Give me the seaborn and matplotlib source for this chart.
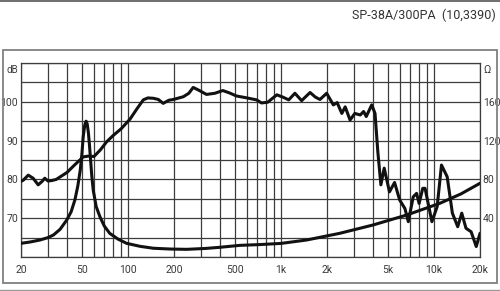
import matplotlib
matplotlib.use("Agg")
import matplotlib.pyplot as plt
import matplotlib.ticker as mticker
from matplotlib.lines import Line2D
from matplotlib.patches import Rectangle
import seaborn as sns
import pandas as pd

# ---- data ----
spl_freq = [20, 20.7, 22.3, 24, 25.9, 27.5, 28.6, 30, 31.8, 34, 40, 45, 51, 55, 60, 66, 72.6, 80, 90,
            103, 115, 126, 135, 147, 158, 170, 185, 198, 230, 250, 267, 290, 326, 370, 417, 460,
            512, 600, 692, 747, 820, 940, 1030, 1124, 1234, 1365, 1550, 1680, 1800, 1990, 2200,
            2330, 2500, 2630, 2830, 3040, 3300, 3470, 3610, 3920, 4120, 4300, 4500, 4730, 5120,
            5530, 5970, 6460, 6800, 7320, 7700, 8000, 8450, 8750, 9700, 10500, 11200, 12200,
            13200, 14300, 15200, 16200, 17500, 18900, 20000]
spl_db = [79.5, 79.8, 81.1, 80.3, 78.6, 79.5, 80.3, 79.6, 79.7, 80.0, 81.8, 83.8, 85.8, 86.0, 85.9, 87.6, 89.7, 91.3, 93.0,
          95.5, 98.3, 100.5, 101.0, 100.9, 100.6, 99.6, 100.4, 100.6, 101.3, 102.2, 103.7, 103.0, 101.9, 102.2, 102.9, 102.3,
          101.5, 101.0, 100.5, 99.7, 99.9, 101.8, 101.2, 100.5, 102.2, 100.3, 102.4, 101.2, 100.6, 102.2, 99.2,
          99.8, 97.0, 98.7, 95.3, 97.0, 96.6, 97.5, 96.2, 99.2, 97.0, 87.0, 78.6, 82.9, 76.8,
          79.2, 74.7, 72.5, 69.1, 75.5, 76.4, 73.8, 77.7, 77.7, 69.1, 73.0, 83.7, 80.7,
          71.3, 67.8, 71.3, 67.4, 66.5, 62.7, 66.1]

imp_freq = [20, 23, 26.6, 30, 32.6, 36, 39.8, 42.5, 45, 47, 48.8, 50, 51, 52.2, 53.3, 54.2, 55.2, 56,
            57, 58, 59.3, 62, 65.6, 70, 76, 86, 98, 120, 147, 190, 242, 320, 399, 538, 725,
            1000, 1470, 2420, 4000, 6640, 10950, 15000, 20000]
imp_ohm = [14.1, 15.5, 17.5, 20.0, 22.7, 28.5, 38.1, 46.5, 58.8, 73, 89.7, 106, 124, 136, 140, 137, 127.5, 116,
           100, 84, 69, 52, 41.5, 32, 24.4, 18.5, 14.1, 11, 9.0, 8.2, 7.9, 8.8, 10.0, 12.0, 12.8,
           14.0, 17.5, 24.4, 33.0, 43.3, 55.4, 65.0, 76.0]

x_major = [20, 50, 100, 200, 500, 1000, 2000, 5000, 10000, 20000]
x_major_labels = ["20", "50", "100", "200", "500", "1k", "2k", "5k", "10k", "20k"]
db_ticks = [60, 65, 70, 75, 80, 85, 90, 95, 100, 105, 110]
db_labels = ["", "", "70", "", "80", "", "90", "", "100", "", ""]
ohm_ticks = [40, 80, 120, 160]
title_text = "SP-38A/300PA  (10,3390)"

# ---- style ----
sns.set_theme(style="white")
plt.rcParams['font.family'] = ['Roboto', 'DejaVu Sans']
txt_col = "#3a3a3a"
grid_col = "#3c3c3c"
lab_fs = 7.5

fig = plt.figure(figsize=(5.0, 2.91), dpi=100)
ax = fig.add_axes([21/500, 1-257/291, (480-21)/500, (257-63)/291])

spl_df = pd.DataFrame({"f": spl_freq, "db": spl_db})
imp_df = pd.DataFrame({"f": imp_freq, "ohm": imp_ohm})

sns.lineplot(data=spl_df, x="f", y="db", ax=ax, color="#111111", lw=2.2, sort=False, zorder=5)
ax.set_xscale("log")
ax.set_xlim(20, 20000)
ax.set_ylim(60, 110)

minor = []
for dec in [10, 100, 1000, 10000]:
    for m in range(1, 10):
        v = dec * m
        if 20 <= v <= 20000 and v not in x_major:
            minor.append(v)
ax.xaxis.set_major_locator(mticker.FixedLocator(x_major))
ax.xaxis.set_major_formatter(mticker.FixedFormatter(x_major_labels))
ax.xaxis.set_minor_locator(mticker.FixedLocator(minor))
ax.xaxis.set_minor_formatter(mticker.NullFormatter())
ax.set_yticks(db_ticks)
ax.set_yticklabels(db_labels)
ax.grid(True, which="both", axis="x", color=grid_col, lw=0.9)
ax.grid(True, which="major", axis="y", color=grid_col, lw=0.9)
ax.tick_params(axis="both", which="both", length=0, labelsize=lab_fs, colors=txt_col)
ax.tick_params(axis="x", pad=6)
ax.tick_params(axis="y", pad=2)
ax.set_xlabel("")
ax.set_ylabel("")
for s in ax.spines.values():
    s.set_color(grid_col)
    s.set_linewidth(0.9)

ax2 = ax.twinx()
sns.lineplot(data=imp_df, x="f", y="ohm", ax=ax2, color="#111111", lw=2.2, sort=False, zorder=5)
ax2.set_ylim(0, 200)
ax2.set_xlim(20, 20000)
ax2.set_yticks(ohm_ticks)
ax2.set_yticklabels([str(t) for t in ohm_ticks])
ax2.tick_params(axis="y", length=0, labelsize=lab_fs, colors=txt_col, pad=2)
ax2.set_ylabel("")
ax2.grid(False)
for s in ax2.spines.values():
    s.set_visible(False)

ax.text(-0.006, 0.965, "dB", transform=ax.transAxes, ha="right", va="center", fontsize=7, color=txt_col)
ax.text(1.008, 0.965, "\u03a9", transform=ax.transAxes, ha="left", va="center", fontsize=8, color=txt_col)

fig.text(496/500, 1-15/291, title_text, ha="right", va="center", fontsize=9, color="#333333")

# outer frame and page lines
fig.patches.append(Rectangle((3/500, 1-283/291), 494/500, 233/291, transform=fig.transFigure,
                             fill=False, edgecolor="#808080", lw=1.3))
fig.lines.append(Line2D([0, 1], [1-0.5/291, 1-0.5/291], transform=fig.transFigure, color="#555555", lw=1.2))
fig.lines.append(Line2D([0, 1], [1-289.5/291, 1-289.5/291], transform=fig.transFigure, color="#999999", lw=1.0))

fig.savefig("out.png", dpi=100)
